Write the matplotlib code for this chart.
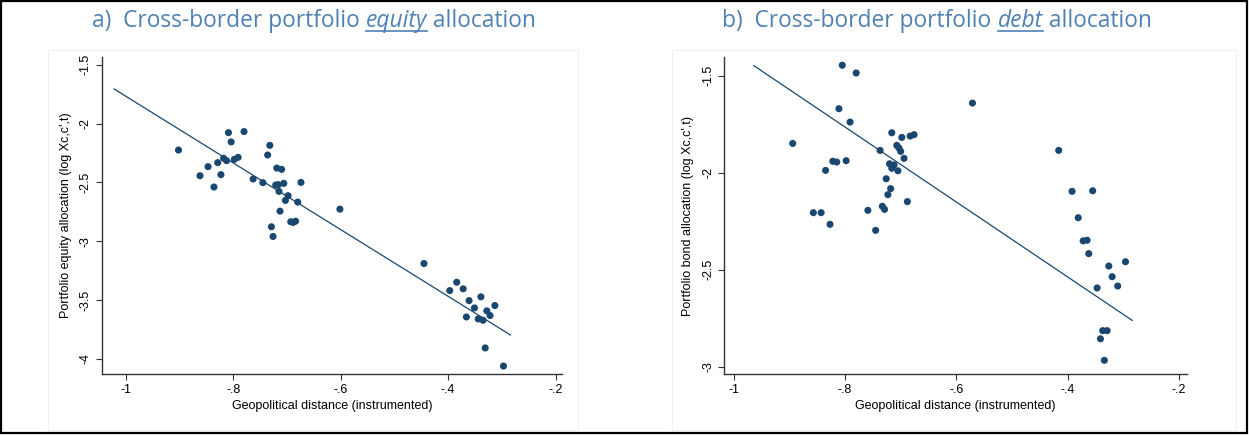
import matplotlib
matplotlib.use("Agg")
import matplotlib.pyplot as plt
from matplotlib.patches import Rectangle
from matplotlib.lines import Line2D
import numpy as np

# panel a: equity (geopolitical distance vs log allocation)
eq_x = [-0.902, -0.862, -0.847, -0.836, -0.829, -0.823, -0.818, -0.8125, -0.809, -0.804,
        -0.798, -0.791, -0.780, -0.763, -0.745, -0.736, -0.732, -0.719, -0.710, -0.721,
        -0.716, -0.706, -0.715, -0.698, -0.703, -0.680, -0.674, -0.713, -0.729, -0.726,
        -0.693, -0.6885, -0.684, -0.6015,
        -0.445, -0.384, -0.397, -0.372, -0.361, -0.339, -0.351, -0.366, -0.344, -0.335,
        -0.328, -0.322, -0.313, -0.331, -0.297]
eq_y = [-2.225, -2.443, -2.366, -2.539, -2.332, -2.434, -2.295, -2.315, -2.077, -2.156,
        -2.304, -2.287, -2.068, -2.471, -2.502, -2.267, -2.185, -2.378, -2.389, -2.522,
        -2.519, -2.508, -2.576, -2.613, -2.653, -2.667, -2.500, -2.744, -2.877, -2.959,
        -2.834, -2.840, -2.829, -2.727,
        -3.189, -3.348, -3.419, -3.404, -3.504, -3.472, -3.566, -3.643, -3.660, -3.671,
        -3.591, -3.631, -3.546, -3.906, -4.060]
eq_fit_x = [-1.022, -0.284]
eq_fit_y = [-1.706, -3.796]

# panel b: debt
debt_x = [-0.805, -0.780, -0.811, -0.791, -0.894, -0.571, -0.716, -0.698, -0.683, -0.676,
          -0.737, -0.707, -0.703, -0.700, -0.694, -0.822, -0.815, -0.798, -0.720, -0.712,
          -0.716, -0.705, -0.835, -0.726, -0.718, -0.723, -0.688, -0.733, -0.729, -0.759,
          -0.857, -0.843, -0.827, -0.745,
          -0.416, -0.392, -0.355, -0.381, -0.372, -0.365, -0.362, -0.296, -0.326, -0.320,
          -0.310, -0.347, -0.337, -0.329, -0.341, -0.334]
debt_y = [-1.446, -1.486, -1.670, -1.739, -1.849, -1.641, -1.794, -1.818, -1.811, -1.804,
          -1.885, -1.859, -1.873, -1.890, -1.926, -1.941, -1.945, -1.938, -1.954, -1.960,
          -1.977, -1.990, -1.988, -2.031, -2.082, -2.113, -2.149, -2.173, -2.189, -2.194,
          -2.206, -2.206, -2.266, -2.297,
          -1.885, -2.096, -2.093, -2.232, -2.351, -2.348, -2.417, -2.459, -2.481, -2.536,
          -2.584, -2.594, -2.814, -2.814, -2.856, -2.967]
debt_fit_x = [-0.964, -0.284]
debt_fit_y = [-1.448, -2.761]

x_ticks = [-1, -0.8, -0.6, -0.4, -0.2]
x_tick_labels = ["-1", "-.8", "-.6", "-.4", "-.2"]
eq_y_ticks = [-4, -3.5, -3, -2.5, -2, -1.5]
eq_y_tick_labels = ["-4", "-3.5", "-3", "-2.5", "-2", "-1.5"]
debt_y_ticks = [-3, -2.5, -2, -1.5]
debt_y_tick_labels = ["-3", "-2.5", "-2", "-1.5"]

W, H = 1249, 436
navy = "#1a476f"
title_col = "#4f81b3"

fig = plt.figure(figsize=(W / 100, H / 100), dpi=100)
fig.patch.set_facecolor("white")

# faint graph-region frames
for x0, x1 in [(48, 578), (672, 1236)]:
    fig.patches.append(Rectangle((x0 / W, 1 - 430 / H), (x1 - x0) / W, (430 - 50) / H,
                                 transform=fig.transFigure, fill=False,
                                 edgecolor="#f0f0f0", lw=0.8))


def panel(rect, xs, ys, fx, fy, yticks, ylabels, xlim, ylim, ytitle):
    ax = fig.add_axes(rect)
    ax.plot(fx, fy, color=navy, lw=0.9, zorder=2)
    ax.scatter(xs, ys, s=26, color=navy, edgecolors="none", zorder=3)
    ax.set_xlim(xlim)
    ax.set_ylim(ylim)
    ax.set_xticks(x_ticks)
    ax.set_xticklabels(x_tick_labels, fontsize=9, family="Liberation Sans")
    ax.set_yticks(yticks)
    ax.set_yticklabels(ylabels, fontsize=9, family="Liberation Sans",
                       rotation=90, va="center")
    for s in ["top", "right"]:
        ax.spines[s].set_visible(False)
    for s in ["left", "bottom"]:
        ax.spines[s].set_color("#333333")
        ax.spines[s].set_linewidth(1.0)
    ax.tick_params(direction="out", length=4, width=0.8, color="#333333", pad=3)
    ax.set_xlabel("Geopolitical distance (instrumented)", fontsize=9,
                  family="Liberation Sans", labelpad=3)
    ax.set_ylabel(ytitle, fontsize=9, family="Liberation Sans", labelpad=6)
    return ax


panel([101.7 / W, 1 - 374.3 / H, (562 - 101.7) / W, (374.3 - 56.7) / H],
      eq_x, eq_y, eq_fit_x, eq_fit_y, eq_y_ticks, eq_y_tick_labels,
      (-1.045, -0.188), (-4.130, -1.432),
      "Portfolio equity allocation (log Xc,c',t)")
panel([724.3 / W, 1 - 374.3 / H, (1186.7 - 724.3) / W, (374.3 - 56.7) / H],
      debt_x, debt_y, debt_fit_x, debt_fit_y, debt_y_ticks, debt_y_tick_labels,
      (-1.017, -0.186), (-3.039, -1.402),
      "Portfolio bond allocation (log Xc,c',t)")

# titles with italic underlined word
renderer = fig.canvas.get_renderer()


def title(cx, parts, base_y=27, size=16.4):
    texts = []
    for txt, style in parts:
        t = fig.text(0, 1 - base_y / H, txt, fontsize=size, family="Open Sans",
                     style=style, color=title_col, va="baseline", ha="left")
        texts.append(t)
    widths = [t.get_window_extent(renderer).width for t in texts]
    x = cx - sum(widths) / 2
    for t, w, (txt, style) in zip(texts, widths, parts):
        t.set_x(x / W)
        if style == "italic":
            fig.add_artist(Line2D([x / W, (x + w) / W],
                                  [1 - (base_y + 4) / H, 1 - (base_y + 4) / H],
                                  transform=fig.transFigure, color=title_col, lw=1.2))
        x += w


title(314, [("a)  Cross-border portfolio ", "normal"), ("equity", "italic"),
            (" allocation", "normal")])
title(937, [("b)  Cross-border portfolio ", "normal"), ("debt", "italic"),
            (" allocation", "normal")])

# outer black frame
fig.patches.append(Rectangle((1 / W, 3 / H), (W - 3) / W, (H - 4) / H,
                             transform=fig.transFigure, fill=False,
                             edgecolor="black", lw=1.6))

fig.savefig("out.png", dpi=100)
